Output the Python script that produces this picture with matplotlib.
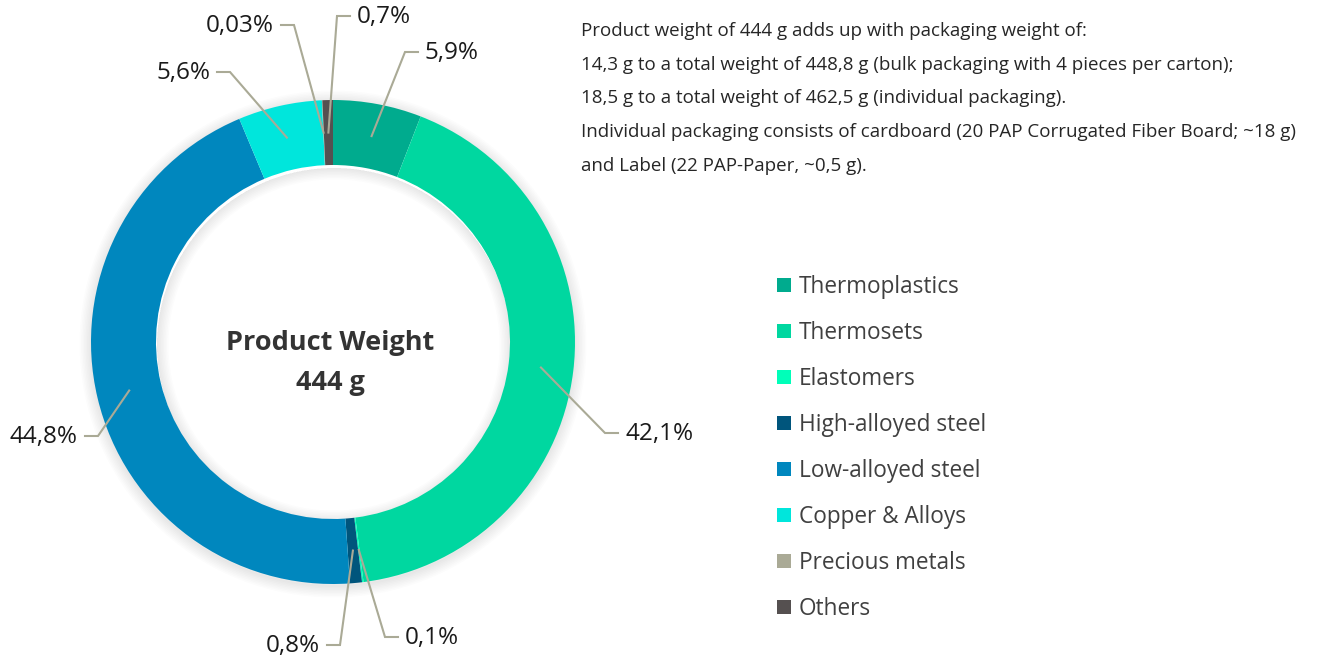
import matplotlib
matplotlib.use("Agg")
import matplotlib.pyplot as plt
from matplotlib.patches import Patch, Wedge
import numpy as np

plt.rcParams["font.family"] = ["Open Sans", "DejaVu Sans"]

# Material shares of the product weight (clockwise from 12 o'clock)
categories = ["Thermoplastics", "Thermosets", "Elastomers", "High-alloyed steel",
              "Low-alloyed steel", "Copper & Alloys", "Precious metals", "Others"]
shares = [5.9, 42.1, 0.1, 0.8, 44.8, 5.6, 0.03, 0.7]
share_labels = ["5,9%", "42,1%", "0,1%", "0,8%", "44,8%", "5,6%", "0,03%", "0,7%"]
colors = ["#00AB8E", "#00D7A0", "#00FFB9", "#00557C",
          "#0087BE", "#00E6DC", "#AAAA96", "#555050"]

center_title = "Product Weight"
center_value = "444 g"

note_lines = [
    "Product weight of 444 g adds up with packaging weight of:",
    "14,3 g to a total weight of 448,8 g (bulk packaging with 4 pieces per carton);",
    "18,5 g to a total weight of 462,5 g (individual packaging).",
    "Individual packaging consists of cardboard (20 PAP Corrugated Fiber Board; ~18 g)",
    "and Label (22 PAP-Paper, ~0,5 g).",
]

# label layout: elbow point (pixels, top origin) and side of the text
W, H = 1318, 656
elbows = [(405, 52), (605, 433), (385, 637), (340, 645),
          (98, 436), (230, 72), (294, 25), (337, 16)]
sides = [1, 1, 1, -1, -1, -1, -1, 1]

cx, cy = 333, H - 342
r_out, ring = 242, 65
r_in = r_out - ring
line_col = "#AAAA96"

fig = plt.figure(figsize=(W / 100, H / 100), dpi=100)
ax = fig.add_axes([0, 0, 1, 1])

# soft shadow around the ring
for i in range(8):
    ax.add_patch(Wedge((cx, cy - 2), r_out + 1 + i * 1.5, 0, 360, width=2 + i * 3,
                       color="black", alpha=0.012, lw=0))
    ax.add_patch(Wedge((cx + 1, cy - 3), r_in, 0, 360, width=1 + i * 1.5,
                       color="black", alpha=0.01, lw=0))

wedges, _ = ax.pie(shares, colors=colors, startangle=90, counterclock=False,
                   radius=r_out, center=(cx, cy),
                   wedgeprops=dict(width=ring, linewidth=0), frame=False)

r_mid = r_out - ring / 2
for w, lab, (ex, ey), side in zip(wedges, share_labels, elbows, sides):
    ang = np.deg2rad((w.theta1 + w.theta2) / 2)
    sx, sy = cx + r_mid * np.cos(ang), cy + r_mid * np.sin(ang)
    ey = H - ey
    hx = ex + side * 13
    ax.plot([sx, ex, hx], [sy, ey, ey], color=line_col, lw=1.5,
            solid_joinstyle="miter", zorder=5)
    ax.text(hx + side * 7, ey - 1, lab, ha="left" if side > 0 else "right",
            va="center", fontsize=17.5, color="#1a1a1a")

ax.text(cx - 3, H - 343, center_title, ha="center", va="center",
        fontsize=19.5, fontweight="bold", color="#333333")
ax.text(cx - 3, H - 383, center_value, ha="center", va="center",
        fontsize=19.5, fontweight="bold", color="#333333")

for i, line in enumerate(note_lines):
    ax.text(581, H - (31 + i * 33.7), line, ha="left", va="center",
            fontsize=13.5, color="#262626")

handles = [Patch(facecolor=c, edgecolor="none", label=n)
           for c, n in zip(colors, categories)]
ax.legend(handles=handles, loc="upper left", bbox_to_anchor=(777 / W, 1 - 275 / H),
          frameon=False, fontsize=16.3, labelcolor="#404040",
          handlelength=0.6, handleheight=0.6, handletextpad=0.35,
          labelspacing=0.97, borderaxespad=0, borderpad=0)

ax.set_xlim(0, W)
ax.set_ylim(0, H)
ax.set_aspect("equal")
ax.axis("off")

fig.savefig("out.png", dpi=100)
